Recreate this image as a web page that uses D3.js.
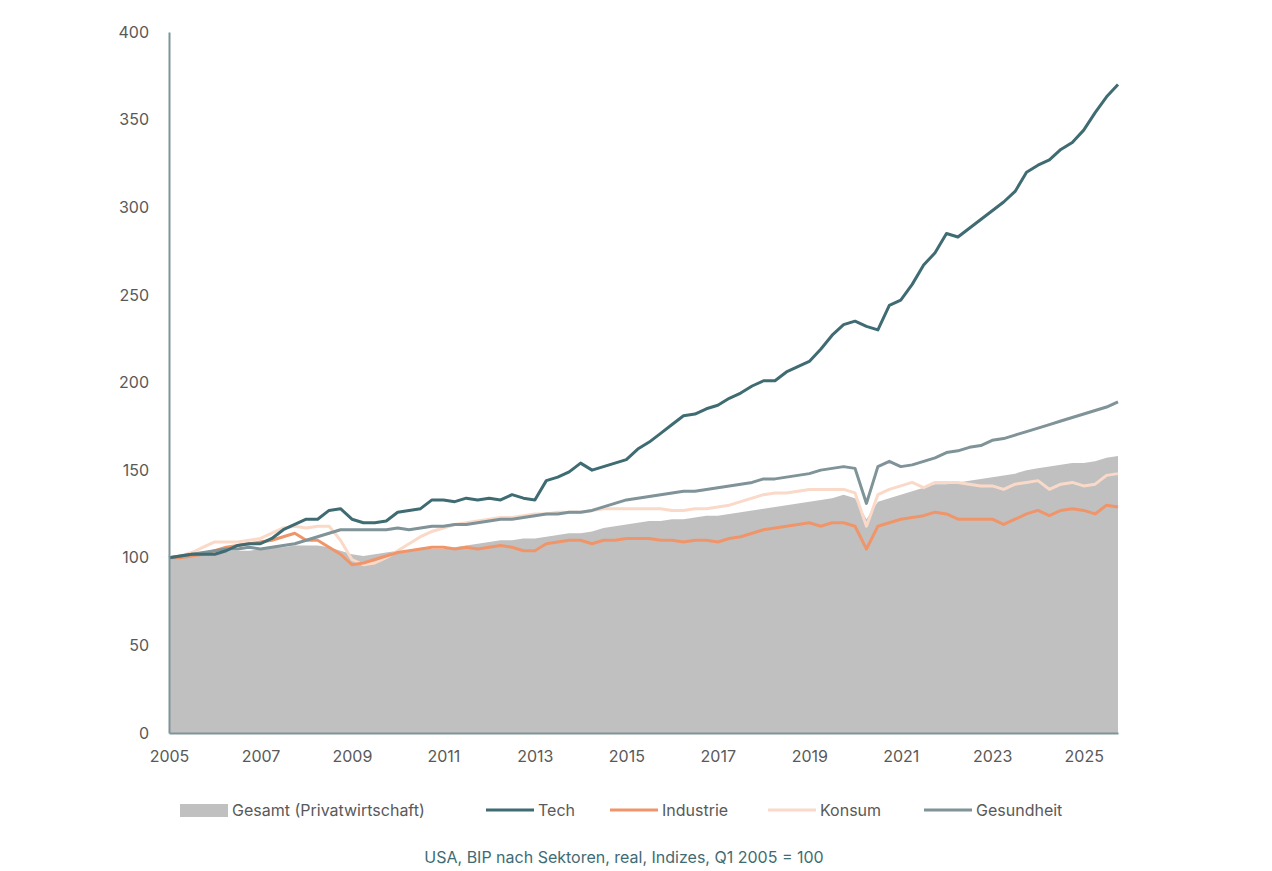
<!DOCTYPE html><html><head><meta charset="utf-8"><script src="https://cdn.jsdelivr.net/npm/d3@7"></script>
<style>body{margin:0;background:#fff;font-family:Inter,"Noto Sans",sans-serif}</style></head><body><svg id="c" width="1272" height="871"></svg><script>
const startYear=2005;
const gesamt=[100,101,102,102,103,104,104,104,105,106,106,107,107,107,106,104,102,101,102,103,104,104,105,105,105,106,107,108,109,110,110,111,111,112,113,114,114,115,117,118,119,120,121,121,122,122,123,124,124,125,126,127,128,129,130,131,132,133,134,136,134,122,132,134,136,138,140,142,142,143,144,145,146,147,148,150,151,152,153,154,154,155,157,158];
const tech=[100,101,102,102,102,104,107,108,108,111,116,119,122,122,127,128,122,120,120,121,126,127,128,133,133,132,134,133,134,133,136,134,133,144,146,149,154,150,152,154,156,162,166,171,176,181,182,185,187,191,194,198,201,201,206,209,212,219,227,233,235,232,230,244,247,256,267,274,285,283,288,293,298,303,309,320,324,327,333,337,344,354,363,370];
const industrie=[100,100,101,102,104,106,107,108,109,110,112,114,110,110,106,102,96,97,99,101,103,104,105,106,106,105,106,105,106,107,106,104,104,108,109,110,110,108,110,110,111,111,111,110,110,109,110,110,109,111,112,114,116,117,118,119,120,118,120,120,118,105,118,120,122,123,124,126,125,122,122,122,122,119,122,125,127,124,127,128,127,125,130,129];
const konsum=[100,101,103,106,109,109,109,110,111,114,117,118,117,118,118,110,99,96,97,100,104,108,112,115,117,119,120,121,122,123,123,124,125,125,126,126,126,127,128,128,128,128,128,128,127,127,128,128,129,130,132,134,136,137,137,138,139,139,139,139,137,118,136,139,141,143,140,143,143,143,142,141,141,139,142,143,144,139,142,143,141,142,147,148];
const gesundheit=[100,101,102,103,104,105,105,106,105,106,107,108,110,112,114,116,116,116,116,116,117,116,117,118,118,119,119,120,121,122,122,123,124,125,125,126,126,127,129,131,133,134,135,136,137,138,138,139,140,141,142,143,145,145,146,147,148,150,151,152,151,131,152,155,152,153,155,157,160,161,163,164,167,168,170,172,174,176,178,180,182,184,186,189];
const yTicks=[0,50,100,150,200,250,300,350,400];
const xTicks=[2005,2007,2009,2011,2013,2015,2017,2019,2021,2023,2025];
const svg=d3.select("#c");
const x=d3.scaleLinear().domain([2005,2025.75]).range([169,1118]);
const y=d3.scaleLinear().domain([0,400]).range([733,32]);
const t=i=>startYear+i/4;
svg.append("path").datum(gesamt).attr("fill","#c0c0c0")
 .attr("d",d3.area().x((d,i)=>x(t(i))).y0(y(0)).y1(d=>y(d)));
const series=[[konsum,"#fad9c8"],[industrie,"#f0956a"],[gesundheit,"#7f9398"],[tech,"#3f6b73"]];
series.forEach(([s,c])=>svg.append("path").datum(s).attr("fill","none").attr("stroke",c).attr("stroke-width",3).attr("stroke-linejoin","round")
 .attr("d",d3.line().x((d,i)=>x(t(i))).y(d=>y(d))));
const ya=svg.append("g").attr("transform","translate(169,0)").call(d3.axisLeft(y).tickValues(yTicks).tickSize(0).tickPadding(20));
ya.select(".domain").attr("stroke","#7f9398").attr("stroke-width",2);
const xa=svg.append("g").attr("transform","translate(0,733)").call(d3.axisBottom(x).tickValues(xTicks).tickFormat(d3.format("d")).tickSize(0).tickPadding(18));
xa.select(".domain").attr("stroke","#7f9398").attr("stroke-width",2);
svg.selectAll(".tick text").attr("font-size",16).attr("fill","#595959").attr("font-family","Inter,'Noto Sans',sans-serif");
const leg=[["Gesamt (Privatwirtschaft)","#c0c0c0",true,180],["Tech","#3f6b73",false,486],["Industrie","#f0956a",false,610],["Konsum","#fad9c8",false,768],["Gesundheit","#7f9398",false,924]];
leg.forEach(([n,c,a,lx])=>{
 if(a) svg.append("rect").attr("x",lx).attr("y",804).attr("width",48).attr("height",13).attr("fill",c);
 else svg.append("line").attr("x1",lx).attr("x2",lx+48).attr("y1",810).attr("y2",810).attr("stroke",c).attr("stroke-width",3);
 svg.append("text").attr("x",lx+52).attr("y",816).attr("font-size",16).attr("fill","#595959").text(n);
});
svg.append("text").attr("x",624).attr("y",863).attr("text-anchor","middle").attr("font-size",16).attr("fill","#3f6b73").text("USA, BIP nach Sektoren, real, Indizes, Q1 2005 = 100");
</script></body></html>
